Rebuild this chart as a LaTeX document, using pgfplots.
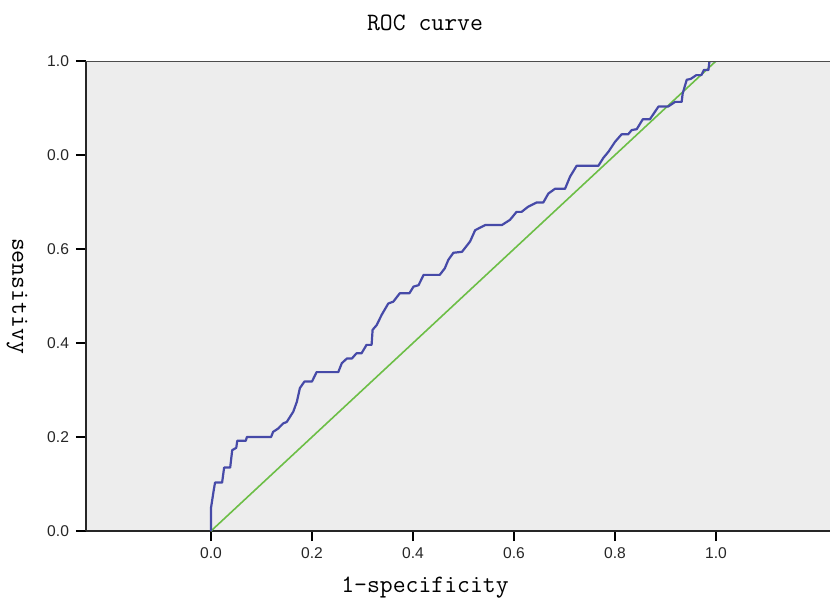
\documentclass[border=0pt]{standalone}
\usepackage{fontspec}
\setmainfont{Liberation Sans}
\usepackage{pgfplots}
\pgfplotsset{compat=1.18}

\definecolor{bgcol}{RGB}{237,237,237}
\definecolor{roc}{RGB}{70,74,168}
\definecolor{ref}{RGB}{108,190,70}

\begin{document}
\begin{tikzpicture}
\begin{axis}[
    at={(0,0)}, anchor=south west,
    scale only axis,
    width=372pt, height=235pt,
    xmin=-0.2475, xmax=1.2257,
    ymin=0, ymax=1,
    axis x line*=bottom,
    axis y line*=left,
    axis line style={-, black!85, line width=1pt},
    axis background/.style={fill=bgcol},
    tick align=outside,
    major tick length=5pt,
    tick style={black, line width=0.8pt},
    xtick={0,0.2,0.4,0.6,0.8,1},
    xticklabels={0.0,0.2,0.4,0.6,0.8,1.0},
    ytick={0,0.2,0.4,0.6,0.8,1},
    yticklabels={0.0,0.2,0.4,0.6,0.0,1.0},
    ticklabel style={font=\fontsize{7.8}{9}\selectfont, text=black!85},
    /pgf/number format/assume math mode=true,
    title={ROC curve},
    title style={at={(0.4556,1)}, anchor=base, yshift=9.5pt,
        font=\fontsize{12.5}{14}\ttfamily},
    xlabel={1-specificity},
    xlabel style={at={(rel axis cs:0.4556,0)}, anchor=base, yshift=-30.5pt,
        font=\fontsize{12.5}{14}\ttfamily},
    ylabel={sensitivy},
    ylabel style={at={(rel axis cs:-0.0927,0.5)}, anchor=center,
        rotate=180, font=\fontsize{12.5}{14}\ttfamily},
]
% reference diagonal
\addplot[ref, line width=0.8pt] coordinates {(0,0) (1,1)};
% ROC curve
\addplot[roc, line width=1.1pt, line join=round] coordinates {
(0,0) (0,0.049) (0.005,0.084) (0.008,0.103) (0.022,0.103) (0.026,0.135)
(0.038,0.135) (0.042,0.172) (0.05,0.177) (0.052,0.192) (0.069,0.192)
(0.071,0.2) (0.119,0.2) (0.123,0.211) (0.133,0.218) (0.143,0.229)
(0.150,0.232) (0.163,0.254) (0.17,0.275) (0.176,0.304) (0.185,0.318)
(0.2,0.318) (0.209,0.338) (0.252,0.338) (0.259,0.357) (0.269,0.367)
(0.279,0.367) (0.288,0.378) (0.298,0.378) (0.308,0.396) (0.318,0.396)
(0.32,0.428) (0.328,0.438) (0.338,0.46) (0.351,0.484) (0.361,0.488)
(0.374,0.506) (0.393,0.506) (0.401,0.52) (0.411,0.523) (0.421,0.545)
(0.453,0.545) (0.463,0.559) (0.47,0.577) (0.48,0.592) (0.497,0.594)
(0.505,0.605) (0.513,0.616) (0.523,0.64) (0.543,0.651) (0.576,0.651)
(0.592,0.662) (0.605,0.679) (0.615,0.679) (0.628,0.69) (0.645,0.699)
(0.658,0.699) (0.668,0.718) (0.681,0.728) (0.701,0.728) (0.711,0.754)
(0.724,0.777) (0.767,0.777) (0.777,0.794) (0.787,0.807) (0.8,0.828)
(0.813,0.844) (0.826,0.844) (0.833,0.853) (0.843,0.855) (0.855,0.876)
(0.869,0.876) (0.886,0.903) (0.905,0.903) (0.919,0.913) (0.932,0.913)
(0.934,0.931) (0.942,0.96) (0.95,0.962) (0.961,0.970) (0.971,0.970)
(0.976,0.981) (0.985,0.981) (0.987,1.0) (1,1)
};
% top frame line
\draw[black!70, line width=1pt] (rel axis cs:0,1) -- (rel axis cs:1,1);
\end{axis}
\pgfresetboundingbox
\path (-43pt,-35.5pt) rectangle (372pt,265.5pt);
\end{tikzpicture}
\end{document}
